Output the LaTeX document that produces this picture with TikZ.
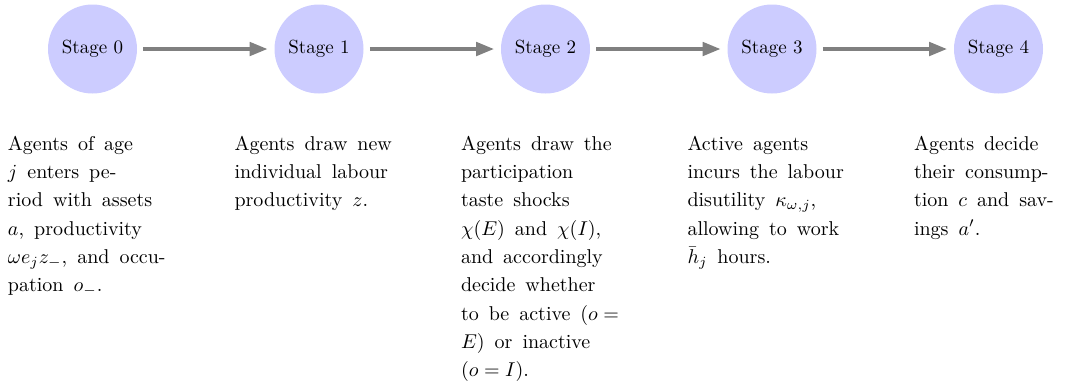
\documentclass[tikz,border=0pt]{standalone}
\usetikzlibrary{arrows.meta}
\definecolor{stagefill}{HTML}{CCCCFF}
\definecolor{arrowgray}{HTML}{808080}
\newcommand{\widespacing}{\spaceskip=5pt\relax}
\begin{document}
\begin{tikzpicture}[x=0.5pt,y=-0.5pt,
  stagenode/.style={circle,fill=stagefill,draw=none,minimum size=44.5pt,inner sep=0pt,
    font=\fontsize{9.5}{11}\selectfont},
  flowarrow/.style={draw=arrowgray,line width=2pt,
    -{Triangle[length=9pt,width=6.6pt]},shorten <=3pt,shorten >=3.2pt},
  desc/.style={anchor=north west,inner sep=0pt,outer sep=0pt,text width=95pt,align=left,
    font=\fontsize{10}{14.15}\selectfont,
    execute at begin node=\widespacing}]
\useasboundingbox (0,0) rectangle (1065,382);
\foreach \i in {0,...,4}{
  \node[stagenode] (s\i) at (92.5+226.5*\i,49) {Stage \i};
}
\foreach \i/\j in {0/1,1/2,2/3,3/4}{
  \draw[flowarrow] (s\i) -- (s\j);
}
\node[desc] (d0) at (8,136) {\rule{0pt}{7pt}Agents of age\\
  $j$ enters pe-\\
  riod with assets\\
  $a$, productivity\\
  $\omega e_j z_-$, and occu-\\
  pation $o_-$.};
\node[desc] (d1) at (234.5,136) {\rule{0pt}{7pt}Agents draw new\\
  individual labour\\
  productivity $z$.};
\node[desc] (d2) at (461,136) {\rule{0pt}{7pt}Agents draw the\\
  participation\\
  taste shocks\\
  $\chi(E)$ and $\chi(I)$,\\
  and accordingly\\
  decide whether\\
  to be active ($o={}$\\
  $E$) or inactive\\
  ($o=I$).};
\node[desc] (d3) at (687.5,136) {\rule{0pt}{7pt}Active agents\\
  incurs the labour\\
  disutility $\kappa_{\omega,j}$,\\
  allowing to work\\
  $\bar{h}_j$ hours.};
\node[desc] (d4) at (914,136) {\rule{0pt}{7pt}Agents decide\\
  their consump-\\
  tion $c$ and sav-\\
  ings $a'$.};
\end{tikzpicture}
\end{document}
